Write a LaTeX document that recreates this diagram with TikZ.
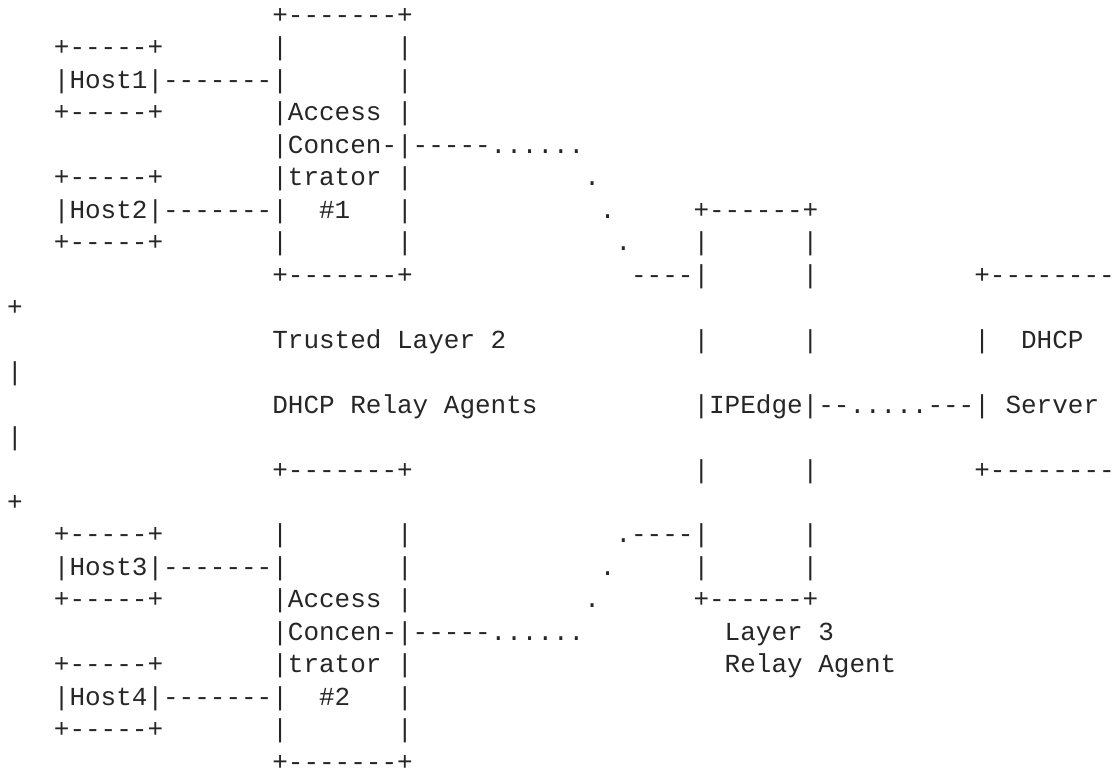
\documentclass[tikz,border=0pt]{standalone}
\usepackage{fontspec}
\setmonofont{Liberation Mono}
\definecolor{ink}{RGB}{38,38,38}
% one character cell: 15.6pt wide, one text row: 32.48pt high
\newcommand\cell[4]{\node[ascii] (#1) at ({7.1+15.6*#2},{-23.3-32.48*#3}) {#4};}
\begin{document}
\begin{tikzpicture}[x=1pt,y=1pt,
  ascii/.style={anchor=base west,inner sep=0pt,outer sep=0pt,text=ink,
    font=\ttfamily\fontsize{26}{26}\selectfont}]
\fill[white] (0,0) rectangle (1113,-773);
\useasboundingbox (0,0) rectangle (1113,-773);
% row 0
\cell{ac1top}{17}{0}{+-------+}
% row 1
\cell{h1top}{3}{1}{+-----+}
\cell{ac1la}{17}{1}{|}
\cell{ac1ra}{25}{1}{|}
% row 2
\cell{h1}{3}{2}{|Host1|-------|}
\cell{ac1rb}{25}{2}{|}
% row 3
\cell{h1bot}{3}{3}{+-----+}
\cell{ac1t1}{17}{3}{|Access}
\cell{ac1rc}{25}{3}{|}
% row 4
\cell{ac1t2}{17}{4}{|Concen-|-----......}
% row 5
\cell{h2top}{3}{5}{+-----+}
\cell{ac1t3}{17}{5}{|trator}
\cell{ac1rd}{25}{5}{|}
\cell{d1a}{37}{5}{.}
% row 6
\cell{h2}{3}{6}{|Host2|-------|}
\cell{ac1t4}{20}{6}{\#1}
\cell{ac1re}{25}{6}{|}
\cell{d1b}{38}{6}{.}
\cell{ipetop}{44}{6}{+------+}
% row 7
\cell{h2bot}{3}{7}{+-----+}
\cell{ac1lf}{17}{7}{|}
\cell{ac1rf}{25}{7}{|}
\cell{d1c}{39}{7}{.}
\cell{ipela}{44}{7}{|}
\cell{ipera}{51}{7}{|}
% row 8
\cell{ac1bot}{17}{8}{+-------+}
\cell{l1end}{40}{8}{----|}
\cell{iperb}{51}{8}{|}
\cell{srvtop}{62}{8}{+--------}
% row 9
\cell{srvtopw}{0}{9}{+}
% row 10
\cell{lab1}{17}{10}{Trusted Layer 2}
\cell{ipelc}{44}{10}{|}
\cell{iperc}{51}{10}{|}
\cell{srv1}{62}{10}{|}
\cell{srv1t}{65}{10}{DHCP}
% row 11
\cell{srvw1}{0}{11}{|}
% row 12
\cell{lab2}{17}{12}{DHCP Relay Agents}
\cell{ipe}{44}{12}{|IPEdge|--.....---|}
\cell{srv2t}{64}{12}{Server}
% row 13
\cell{srvw2}{0}{13}{|}
% row 14
\cell{ac2top}{17}{14}{+-------+}
\cell{ipeld}{44}{14}{|}
\cell{iperd}{51}{14}{|}
\cell{srvbot}{62}{14}{+--------}
% row 15
\cell{srvbotw}{0}{15}{+}
% row 16
\cell{h3top}{3}{16}{+-----+}
\cell{ac2la}{17}{16}{|}
\cell{ac2ra}{25}{16}{|}
\cell{l2end}{39}{16}{.----|}
\cell{ipere}{51}{16}{|}
% row 17
\cell{h3}{3}{17}{|Host3|-------|}
\cell{ac2rb}{25}{17}{|}
\cell{d2b}{38}{17}{.}
\cell{ipelf}{44}{17}{|}
\cell{iperf}{51}{17}{|}
% row 18
\cell{h3bot}{3}{18}{+-----+}
\cell{ac2t1}{17}{18}{|Access}
\cell{ac2rc}{25}{18}{|}
\cell{d2a}{37}{18}{.}
\cell{ipebot}{44}{18}{+------+}
% row 19
\cell{ac2t2}{17}{19}{|Concen-|-----......}
\cell{lab3}{46}{19}{Layer 3}
% row 20
\cell{h4top}{3}{20}{+-----+}
\cell{ac2t3}{17}{20}{|trator}
\cell{ac2rd}{25}{20}{|}
\cell{lab4}{46}{20}{Relay Agent}
% row 21
\cell{h4}{3}{21}{|Host4|-------|}
\cell{ac2t4}{20}{21}{\#2}
\cell{ac2re}{25}{21}{|}
% row 22
\cell{h4bot}{3}{22}{+-----+}
\cell{ac2lf}{17}{22}{|}
\cell{ac2rf}{25}{22}{|}
% row 23
\cell{ac2bot}{17}{23}{+-------+}
\end{tikzpicture}
\end{document}
